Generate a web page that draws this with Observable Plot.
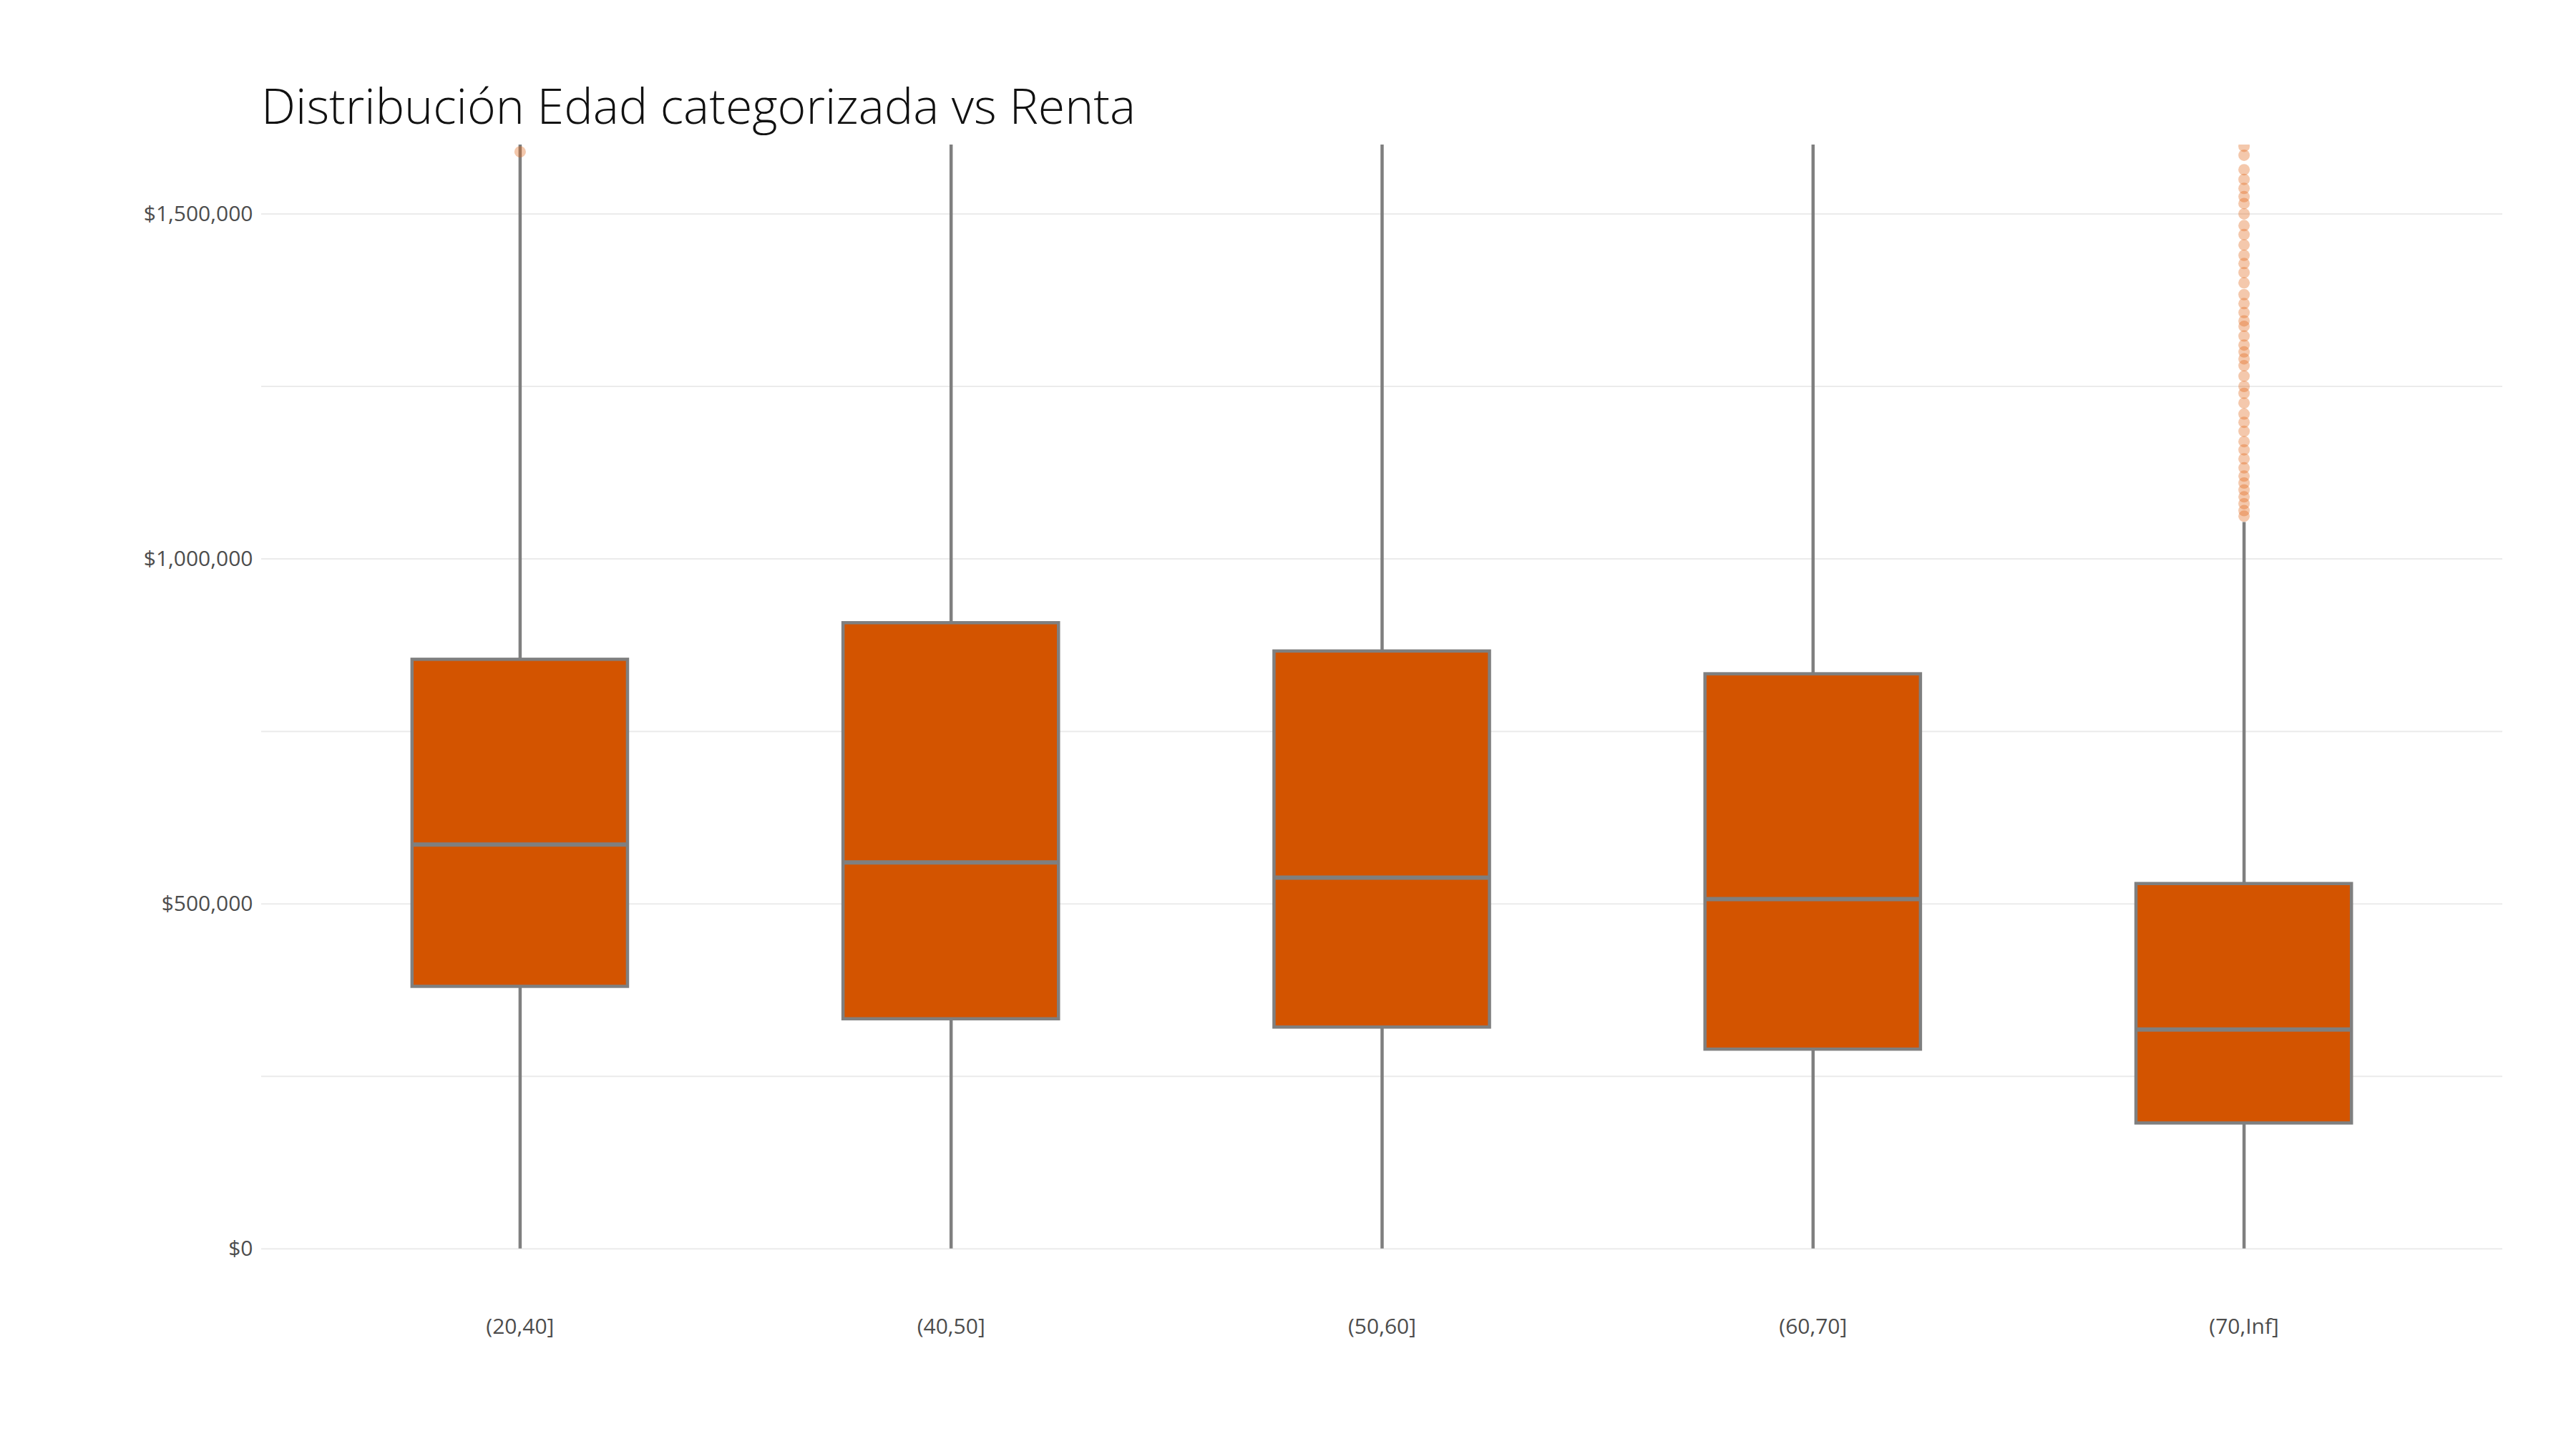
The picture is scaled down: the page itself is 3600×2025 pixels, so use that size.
<!DOCTYPE html>
<html>
<head>
<meta charset="utf-8">
<script src="https://cdn.jsdelivr.net/npm/d3@7"></script>
<script src="https://cdn.jsdelivr.net/npm/@observablehq/plot@0.6"></script>
<style>
  body { margin: 0; background: #fff; font-family: 'Open Sans', sans-serif; }
  #wrap { position: relative; width: 3600px; height: 2025px; }
  #title { position: absolute; left: 365px; top: 100px; font-size: 68px; font-weight: 300; color: #111; }
  #ylab { position: absolute; left: 122px; top: 224px; font-size: 30px; color: #222;
          transform-origin: left top; transform: rotate(-90deg) translateX(-100%); }
  #xlab { position: absolute; right: 103px; top: 1868px; font-size: 30px; color: #222; }
  #vis { position: absolute; left: 0; top: 200px; }
</style>
</head>
<body>
<div id="wrap">
  <div id="title">Distribución Edad categorizada vs Renta</div>
  <div id="ylab">renta_liquida</div>
  <div id="xlab">edad_cat</div>
  <div id="vis"></div>
</div>
<script>
const categorias = ['(20,40]', '(40,50]', '(50,60]', '(60,70]', '(70,Inf]']
const q1 = [380000, 333000, 321000, 289000, 182000]
const mediana = [586000, 560000, 538000, 507000, 318000]
const q3 = [854000, 907000, 866000, 833000, 529000]
const bigoteMin = [0, 0, 0, 0, 0]
const bigoteMax = [1600000, 1600000, 1600000, 1600000, 1053000]
const outlierCat = [1, 5, 5, 5, 5, 5, 5, 5, 5, 5, 5, 5, 5, 5, 5, 5, 5, 5, 5, 5, 5, 5, 5, 5, 5, 5, 5, 5, 5, 5, 5, 5, 5, 5, 5, 5, 5, 5, 5, 5, 5, 5, 5, 5]
const outlierVal = [1590000,
  1598000, 1585000, 1564000, 1550000, 1537000, 1525000, 1515000, 1500000, 1483000, 1470000,
  1455000, 1440000, 1428000, 1415000, 1400000, 1383000, 1370000, 1357000, 1345000, 1337000,
  1323000, 1310000, 1300000, 1290000, 1280000, 1265000, 1250000, 1240000, 1226000, 1210000,
  1198000, 1185000, 1170000, 1158000, 1145000, 1132000, 1120000, 1110000, 1100000, 1090000,
  1080000, 1070000, 1062000]

const cajas = categorias.map((c, i) => ({
  i: i + 1, q1: q1[i], med: mediana[i], q3: q3[i], lo: bigoteMin[i], hi: bigoteMax[i]
}))
const outliers = outlierVal.map((v, k) => ({ i: outlierCat[k], v }))

const gris = '#7f7f7f'
const chart = Plot.plot({
  width: 3600,
  height: 1825,
  marginTop: 2,
  marginBottom: 203,
  marginLeft: 365,
  marginRight: 103,
  x: { domain: [0.4, 5.6], ticks: [1, 2, 3, 4, 5], tickFormat: d => categorias[d - 1], tickSize: 0, tickPadding: 20, label: null },
  y: { domain: [-80000, 1600000], ticks: [0, 500000, 1000000, 1500000], tickFormat: d => '$' + d3.format(',')(d), tickSize: 0, tickPadding: 12, label: null },
  style: { fontSize: '30px', fontFamily: 'Open Sans', color: '#4d4d4d', background: '#fff' },
  marks: [
    Plot.ruleY([0, 250000, 500000, 750000, 1000000, 1250000, 1500000], { stroke: '#ebebeb', strokeWidth: 2, strokeOpacity: 1 }),
    Plot.ruleX(cajas, { x: 'i', y1: 'lo', y2: 'hi', stroke: gris, strokeWidth: 4.5, clip: true }),
    Plot.rect(cajas, { x1: d => d.i - 0.25, x2: d => d.i + 0.25, y1: 'q1', y2: 'q3', fill: '#D35400', stroke: gris, strokeWidth: 4.5 }),
    Plot.ruleY(cajas, { y: 'med', x1: d => d.i - 0.25, x2: d => d.i + 0.25, stroke: gris, strokeWidth: 6 }),
    Plot.dot(outliers, { x: 'i', y: 'v', r: 8, fill: '#E06010', fillOpacity: 0.35, stroke: 'none', clip: true })
  ]
})
d3.select('#vis').append(() => chart)
</script>
</body>
</html>
